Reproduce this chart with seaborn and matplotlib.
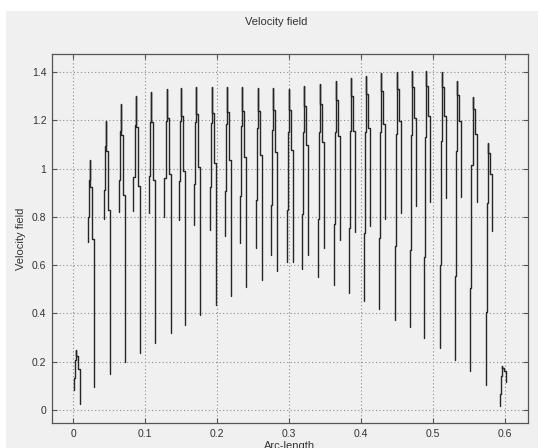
import numpy as np
import pandas as pd
import matplotlib
matplotlib.use("Agg")
import matplotlib.pyplot as plt
import seaborn as sns
from matplotlib.patches import Rectangle


# Values: one "tooth" per oscillation
peak_x = [0.004, 0.0236, 0.0454, 0.0667, 0.087, 0.1088, 0.130, 0.150, 0.171, 0.193,
          0.214, 0.235, 0.257, 0.278, 0.2996, 0.321, 0.343, 0.365, 0.386, 0.407,
          0.428, 0.450, 0.471, 0.491, 0.513, 0.534, 0.555, 0.577, 0.5965]
peak_y = [0.25, 1.036, 1.197, 1.266, 1.30, 1.319, 1.331, 1.334, 1.338, 1.338,
          1.338, 1.336, 1.332, 1.332, 1.33, 1.342, 1.350, 1.364, 1.377, 1.385,
          1.395, 1.40, 1.404, 1.406, 1.40, 1.364, 1.298, 1.107, 0.183]
rise_low = [0.083, 0.697, 0.79, 0.82, 0.824, 0.817, 0.80, 0.785, 0.766, 0.746,
            0.72, 0.693, 0.67, 0.642, 0.614, 0.583, 0.55, 0.518, 0.486, 0.453,
            0.417, 0.373, 0.343, 0.30, 0.255, 0.207, 0.163, 0.105, 0.018]
fall_low = [0.025, 0.097, 0.149, 0.198, 0.235, 0.278, 0.319, 0.353, 0.395, 0.435,
            0.474, 0.509, 0.539, 0.577, 0.612, 0.642, 0.67, 0.704, 0.739, 0.762,
            0.791, 0.818, 0.846, 0.863, 0.879, 0.884, 0.86, 0.741, 0.116]

x_ticks = [0, 0.1, 0.2, 0.3, 0.4, 0.5, 0.6]
y_ticks = [0, 0.2, 0.4, 0.6, 0.8, 1.0, 1.2, 1.4]

# arc-length offsets of the rising / falling flanks around each peak
RISE_DX = 0.003
FALL_DX = 0.0055
# the coarse sampling makes each flank a little staircase of vertical runs
RISE_STEPS = [0.3, 0.75]   # fraction of the way up
FALL_STEPS = [0.12, 0.35]  # fraction of the way down

rows = []
for i in range(len(peak_x)):
    xp, yp = peak_x[i], peak_y[i]
    lo_r, lo_f = rise_low[i], fall_low[i]
    # rising flank
    xs = np.linspace(xp - RISE_DX, xp, len(RISE_STEPS) + 1)
    ys = [lo_r] + [lo_r + f * (yp - lo_r) for f in RISE_STEPS] + [yp]
    pts = [(xs[0], ys[0])]
    for k in range(len(xs)):
        pts.append((xs[k], ys[k + 1]))
        if k + 1 < len(xs):
            pts.append((xs[k + 1], ys[k + 1]))
    # falling flank
    xs = np.linspace(xp, xp + FALL_DX, len(FALL_STEPS) + 1)
    ys = [yp] + [yp - f * (yp - lo_f) for f in FALL_STEPS] + [lo_f]
    for k in range(len(xs)):
        if k > 0:
            pts.append((xs[k], ys[k]))
        pts.append((xs[k], ys[k + 1]))
    for x, y in pts:
        rows.append((i, x, y))
df = pd.DataFrame(rows, columns=["tooth", "arc", "vel"])

# Style: matlab-ish look
sns.set_style("ticks")
plt.rcParams["font.family"] = ["Liberation Sans", "DejaVu Sans"]

BG = "#f0f0f0"
TXT = "#333333"

fig = plt.figure(figsize=(5.38, 4.48), dpi=100, facecolor="white")
fig.patches.append(Rectangle((6 / 538, 0), 1, 1 - 11 / 448, transform=fig.transFigure,
                             facecolor=BG, edgecolor="none", zorder=-10))

ax = fig.add_axes([52 / 538, 25 / 448, 476 / 538, 369 / 448])
ax.set_facecolor(BG)

sns.lineplot(data=df, x="arc", y="vel", units="tooth", estimator=None, sort=False,
             color="#262626", linewidth=1.0, ax=ax, legend=False)

ax.set_xlim(-0.0292, 0.632)
ax.set_ylim(-0.054, 1.4747)
ax.set_xticks(x_ticks)
ax.set_yticks(y_ticks)
ax.set_xticklabels([f"{v:g}" for v in x_ticks])
ax.set_yticklabels([f"{v:g}" for v in y_ticks])

ax.grid(True, color="#8c8c8c", linestyle=(0, (1, 2.2)), linewidth=0.8)
ax.set_axisbelow(True)

for s in ax.spines.values():
    s.set_visible(True)
    s.set_color("#555555")
    s.set_linewidth(0.9)

ax.tick_params(direction="in", length=3.5, width=0.8, color="#555555",
               top=True, right=True, labelsize=7.5, labelcolor=TXT, pad=4)

ax.set_title("Velocity field", fontsize=8, color=TXT, x=(276 - 52) / 476, pad=21)
ax.set_xlabel("Arc-length", fontsize=8, color=TXT)
ax.set_ylabel("Velocity field", fontsize=8, color=TXT)
ax.xaxis.set_label_coords(0.5, -0.05)
ax.yaxis.set_label_coords(-0.055, 0.5)

fig.savefig("out.png", dpi=100, facecolor=fig.get_facecolor())
